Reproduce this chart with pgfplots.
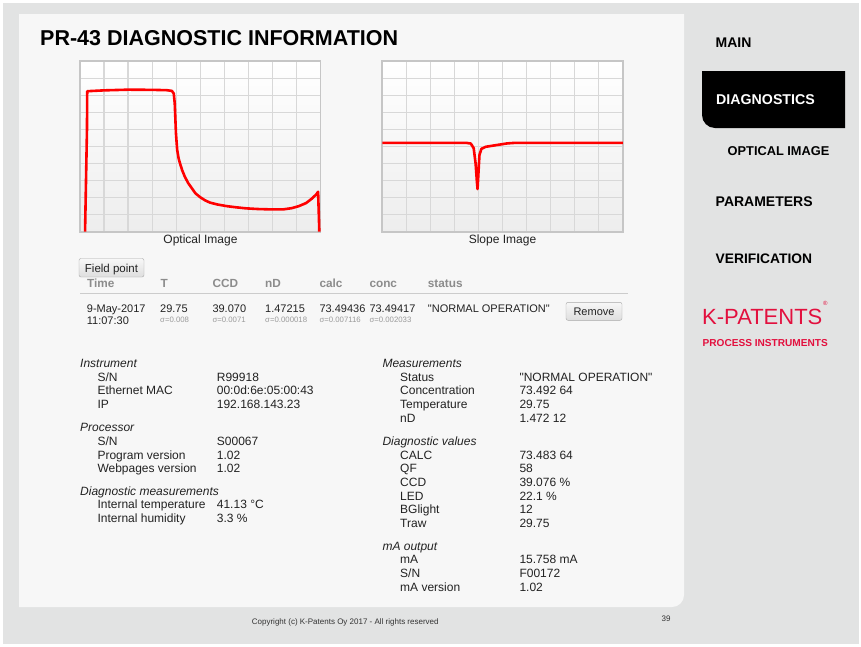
\documentclass[border=0pt]{standalone}
\usepackage{fontspec}
\setmainfont{Liberation Sans}
\usepackage{pgfplots}
\pgfplotsset{compat=1.18}

\definecolor{bg}{HTML}{E2E3E3}
\definecolor{panel}{HTML}{F7F7F7}
\definecolor{ink}{HTML}{222222}
\definecolor{hdr}{HTML}{8C8C8C}
\definecolor{sig}{HTML}{9A9A9A}
\definecolor{kp}{HTML}{E2103E}
\definecolor{gridc}{HTML}{D8D8D8}
\definecolor{framec}{HTML}{C6C6C6}
\definecolor{btnline}{HTML}{A8A8A8}
\newcommand\fs[1]{\fontsize{#1}{#1}\selectfont}
\newcommand\q{\textquotedbl}

\pgfplotsset{diagchart/.style={
  scale only axis, width=240.5pt, height=170.5pt, anchor=south west,
  xmin=0, xmax=100, ymin=0, ymax=100,
  xtick={0,10,...,100}, ytick={0,10,...,100},
  xticklabels={}, yticklabels={}, major tick length=0pt,
  grid=major, major grid style={gridc, line width=1.3pt},
  axis line style={framec, line width=1.8pt},
  axis background/.style={top color=white, bottom color=black!7},
}}

% optical image trace (x: pixel column in %, y: intensity in %)
\pgfplotstableread{
x y
2.1 0
2.9 60
3.0 82.4
10 82.9
20 83.3
30 83.2
36 83.0
38.2 82.6
39.0 81
39.4 75
39.6 68
39.9 57.6
40.4 48
41.0 43
41.6 40
42.5 36
43.6 32.2
45.0 28.5
46.5 25.5
48.0 22.5
50.0 20.2
52.0 18.4
54.0 17.1
57.0 16.0
61.0 15.0
65.0 14.3
69.0 13.7
74.0 13.3
79.0 13.1
84.5 13.1
88.0 13.8
91.0 15.0
94.0 16.8
96.5 19.5
98.3 22.0
99.0 23.4
99.3 10
99.5 0
}\optical

% slope image trace
\pgfplotstableread{
x y
0 52.1
35 52.1
36.8 51.7
38.0 49
38.8 40
39.3 30
39.6 25
40.0 35
40.4 45
41.2 48.6
43.0 49.8
47.0 50.7
52.0 51.8
55.0 52.1
100 52.1
}\slope

\begin{document}
\begin{tikzpicture}[x=1pt, y=-1pt, every node/.style={inner sep=0pt, text=ink}]
% page and panel
\fill[white] (0,0) rectangle (861,646);
\fill[bg] (2.5,2.5) rectangle (858.5,643.5);
\fill[panel] (19,14) -- (684,14) -- (684,595) arc[start angle=0, end angle=90, radius=12] -- (19,607) -- cycle;

% title
\node[anchor=base west, font=\fs{21.5}\bfseries, text=black] at (40,45.7) {PR-43 DIAGNOSTIC INFORMATION};

% charts
\begin{axis}[diagchart, at={(80pt,-231.7pt)}]
\addplot[red, line width=2.6pt, line join=round] table {\optical};
\end{axis}
\begin{axis}[diagchart, at={(382.3pt,-231.7pt)}]
\addplot[red, line width=2.6pt, line join=round] table {\slope};
\end{axis}
\node[anchor=base, font=\fs{12}] at (200.5,243.3) {Optical Image};
\node[anchor=base, font=\fs{12}] at (502.5,243.3) {Slope Image};

% field point table
\shade[top color=white!97!black, bottom color=black!13, draw=btnline, rounded corners=2pt] (79,258.5) rectangle (144,277);
\node[anchor=base, font=\fs{11.5}] at (111.5,272) {Field point};
\foreach \x/\t in {87/Time, 160.5/T, 212.3/CCD, 265/nD, 319.3/calc, 369.3/conc, 427.7/status}
  \node[anchor=base west, font=\fs{11.8}\bfseries, text=hdr] at (\x,287.5) {\t};
\draw[black!20, line width=1pt] (80,293) -- (628,293);
\foreach \x/\t in {86.7/9-May-2017, 160/29.75, 212.3/39.070, 265/1.47215, 319.3/73.49436, 369.3/73.49417, 427.7/\q NORMAL OPERATION\q}
  \node[anchor=base west, font=\fs{11}] at (\x,312.3) {\t};
\node[anchor=base west, font=\fs{11}] at (86.7,324.2) {11:07:30};
\foreach \x/\t in {160/0.008, 212.3/0.0071, 265/0.000018, 319.3/0.007116, 369.3/0.002033}
  \node[anchor=base west, font=\fs{7.8}, text=sig] at (\x,322) {σ=\t};
\shade[top color=white!97!black, bottom color=black!13, draw=btnline, rounded corners=2pt] (566,302.3) rectangle (622,320.3);
\node[anchor=base, font=\fs{11}] at (594,315.4) {Remove};

% left information block
\foreach \y/\t in {367/Instrument, 431/Processor, 495/Diagnostic measurements}
  \node[anchor=base west, font=\fs{12}\itshape] at (80,\y) {\t};
\foreach \y/\a/\b in {381/S\slash N/R99918, 394.5/Ethernet MAC/00:0d:6e:05:00:43, 408.5/IP/192.168.143.23,
                      445/S\slash N/S00067, 459/Program version/1.02, 472.5/Webpages version/1.02,
                      508.5/Internal temperature/41.13 °C, 522/Internal humidity/3.3 \%}{
  \node[anchor=base west, font=\fs{12}] at (97.3,\y) {\a};
  \node[anchor=base west, font=\fs{12}] at (216.7,\y) {\b};
}

% right information block
\foreach \y/\t in {367/Measurements, 445/Diagnostic values, 550/mA output}
  \node[anchor=base west, font=\fs{12}\itshape] at (382.3,\y) {\t};
\foreach \y/\a/\b in {381/Status/\q NORMAL OPERATION\q, 394.5/Concentration/73.492 64, 408.5/Temperature/29.75, 422/nD/1.472 12,
                      459.5/CALC/73.483 64, 472.5/QF/58, 486.5/CCD/39.076 \%, 500/LED/22.1 \%, 513.5/BGlight/12, 527/Traw/29.75,
                      563.5/mA/15.758 mA, 577/S\slash N/F00172, 591/mA version/1.02}{
  \node[anchor=base west, font=\fs{12}] at (400,\y) {\a};
  \node[anchor=base west, font=\fs{12}] at (519.3,\y) {\b};
}

% footer
\node[anchor=base west, font=\fs{8}, text=black!80] at (251.7,624) {Copyright (c) K-Patents Oy 2017 - All rights reserved};
\node[anchor=base west, font=\fs{8}, text=black!80] at (661.5,621.5) {39};

% side menu
\fill[black] (702,71) -- (845,71) -- (845,128) -- (715,128) arc[start angle=90, end angle=180, radius=13] -- cycle;
\node[anchor=base west, font=\fs{14}\bfseries, text=black] at (715.5,47.7) {MAIN};
\node[anchor=base west, font=\fs{14.2}\bfseries, text=white] at (716,104) {DIAGNOSTICS};
\node[anchor=base west, font=\fs{12.8}\bfseries, text=black] at (727.5,155.6) {OPTICAL IMAGE};
\node[anchor=base west, font=\fs{14}\bfseries, text=black] at (715.5,206.7) {PARAMETERS};
\node[anchor=base west, font=\fs{13.8}\bfseries, text=black] at (715.5,263.3) {VERIFICATION};

% logo
\node[anchor=base west, font=\fs{22}, text=kp] at (702,324) {K-PATENTS};
\node[anchor=base west, font=\fs{6}, text=kp] at (823,305) {®};
\node[anchor=base west, font=\fs{10.1}\bfseries, text=kp] at (702.5,346.7) {PROCESS INSTRUMENTS};
\end{tikzpicture}
\end{document}
